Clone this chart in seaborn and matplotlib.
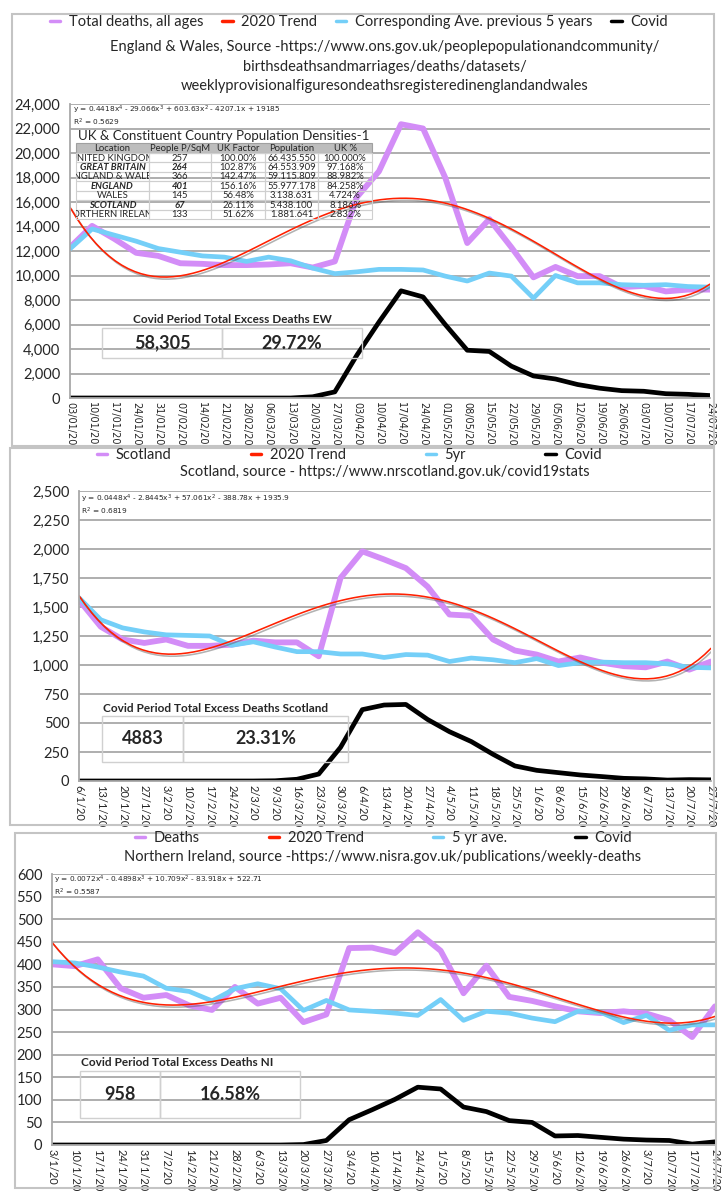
import numpy as np
import matplotlib
matplotlib.use('Agg')
import matplotlib.pyplot as plt
import matplotlib.patheffects as pe
from matplotlib.lines import Line2D
from matplotlib.patches import Rectangle
from matplotlib.ticker import FuncFormatter
import seaborn as sns

# England & Wales
ew_dates = ['03/01/20', '10/01/20', '17/01/20', '24/01/20', '31/01/20', '07/02/20', '14/02/20',
            '21/02/20', '28/02/20', '06/03/20', '13/03/20', '20/03/20', '27/03/20', '03/04/20',
            '10/04/20', '17/04/20', '24/04/20', '01/05/20', '08/05/20', '15/05/20', '22/05/20',
            '29/05/20', '05/06/20', '12/06/20', '19/06/20', '26/06/20', '03/07/20', '10/07/20',
            '17/07/20', '24/07/20']
ew_total = [12300, 14050, 13000, 11850, 11600, 11000, 10950, 10850, 10850, 10900, 11000, 10650,
            11150, 16400, 18500, 22350, 22000, 18000, 12650, 14600, 12300, 9850, 10700, 9950,
            9950, 9050, 9150, 8700, 8850, 8850]
ew_avg5 = [12175, 13800, 13300, 12800, 12200, 11900, 11600, 11500, 11150, 11500, 11200, 10600,
           10150, 10300, 10500, 10500, 10450, 9950, 9550, 10200, 9950, 8150, 10000, 9400, 9400,
           9250, 9200, 9250, 9100, 9050]
ew_covid = [0, 0, 0, 0, 0, 0, 0, 0, 0, 0, 0, 100, 500, 3500, 6200, 8750, 8250, 6000, 3900, 3800,
            2600, 1800, 1550, 1100, 800, 600, 550, 350, 300, 200]

# Scotland
sc_dates = ['6/1/20', '13/1/20', '20/1/20', '27/1/20', '3/2/20', '10/2/20', '17/2/20', '24/2/20',
            '2/3/20', '9/3/20', '16/3/20', '23/3/20', '30/3/20', '6/4/20', '13/4/20', '20/4/20',
            '27/4/20', '4/5/20', '11/5/20', '18/5/20', '25/5/20', '1/6/20', '8/6/20', '15/6/20',
            '22/6/20', '29/6/20', '6/7/20', '13/7/20', '20/7/20', '27/7/20']
sc_total = [1560, 1330, 1220, 1190, 1220, 1165, 1165, 1175, 1210, 1195, 1195, 1075, 1750, 1980,
            1910, 1835, 1675, 1435, 1425, 1220, 1125, 1090, 1030, 1065, 1020, 990, 980, 1030,
            960, 1030]
sc_avg5 = [1580, 1390, 1320, 1285, 1260, 1255, 1250, 1170, 1200, 1155, 1115, 1115, 1095, 1095,
           1065, 1090, 1085, 1030, 1060, 1045, 1020, 1055, 995, 1020, 1025, 1020, 1020, 1010,
           980, 975]
sc_covid = [0, 0, 0, 0, 0, 0, 0, 0, 0, 2, 15, 60, 290, 615, 655, 660, 530, 425, 340, 230, 130,
            92, 72, 52, 38, 23, 18, 8, 12, 10]

# Northern Ireland
ni_dates = ['3/1/20', '10/1/20', '17/1/20', '24/1/20', '31/1/20', '7/2/20', '14/2/20', '21/2/20',
            '28/2/20', '6/3/20', '13/3/20', '20/3/20', '27/3/20', '3/4/20', '10/4/20', '17/4/20',
            '24/4/20', '1/5/20', '8/5/20', '15/5/20', '22/5/20', '29/5/20', '5/6/20', '12/6/20',
            '19/6/20', '26/6/20', '3/7/20', '10/7/20', '17/7/20', '24/7/20']
ni_total = [400, 396, 411, 347, 326, 332, 309, 299, 350, 313, 326, 272, 289, 436, 437, 425, 471,
            430, 336, 397, 328, 319, 307, 296, 292, 296, 291, 276, 239, 307]
ni_avg5 = [406, 403, 394, 383, 374, 347, 340, 319, 346, 357, 346, 298, 320, 299, 296, 292, 287,
           322, 276, 296, 292, 281, 273, 296, 294, 271, 287, 254, 266, 266]
ni_covid = [0, 0, 0, 0, 0, 0, 0, 0, 0, 0, 0, 1, 10, 56, 78, 101, 128, 124, 84, 74, 54, 50, 20,
            21, 17, 13, 11, 10, 2, 7]

# population density table
tbl_header = ['Location', 'People P/SqM', 'UK Factor', 'Population', 'UK %']
tbl_rows = [
    ['UNITED KINGDOM', '257', '100.00%', '66.435.550', '100.000%'],
    ['GREAT BRITAIN', '264', '102.87%', '64.553.909', '97.168%'],
    ['ENGLAND & WALES', '366', '142.47%', '59.115.809', '88.982%'],
    ['ENGLAND', '401', '156.16%', '55.977.178', '84.258%'],
    ['WALES', '145', '56.48%', '3.138.631', '4.724%'],
    ['SCOTLAND', '67', '26.11%', '5.438.100', '8.186%'],
    ['NORTHERN IRELAND', '133', '51.62%', '1.881.641', '2.832%'],
]
tbl_bold = [False, True, False, True, False, True, False]

PURPLE = '#D38DF7'
CYAN = '#74CFF8'
RED = '#FF2000'
GRID = '#A8A8A8'
BOX = '#C4C4C4'

W, H = 724, 1200
sns.set_theme(style='white')
plt.rcParams['font.family'] = ['Lato', 'DejaVu Sans']

fig = plt.figure(figsize=(W / 100, H / 100), dpi=100)


def fx(px):
    return px / W


def fy(py):
    return 1 - py / H


def rect(x0, y0, x1, y1, **kw):
    r = Rectangle((fx(x0), fy(y1)), fx(x1) - fx(x0), fy(y0) - fy(y1),
                  transform=fig.transFigure, **kw)
    fig.patches.append(r)
    return r


def draw_panel(box, axrect, dates, total, avg5, covid, ymax, ystep, comma, xfont, xsize, ysize):
    rect(*box, fill=False, ec=BOX, lw=1.5)
    x0, y0, x1, y1 = axrect
    ax = fig.add_axes([fx(x0), fy(y1), fx(x1) - fx(x0), fy(y0) - fy(y1)])
    pos = np.arange(len(dates))
    sns.lineplot(x=pos, y=total, ax=ax, color=PURPLE, lw=4.2)
    sns.lineplot(x=pos, y=avg5, ax=ax, color=CYAN, lw=3.4)
    sns.lineplot(x=pos, y=covid, ax=ax, color='black', lw=3.4)
    # 4th order polynomial trend, like the spreadsheet trendline
    sns.regplot(x=pos, y=np.array(total, dtype=float), order=4, ci=None, scatter=False, ax=ax,
                line_kws=dict(color=RED, lw=1.15, path_effects=[
                    pe.SimpleLineShadow(offset=(1.2, -1.5), shadow_color='#555555', alpha=0.45),
                    pe.Normal()]))
    ax.set_xlim(0, len(dates) - 1)
    ax.set_ylim(0, ymax)
    ax.set_yticks(np.arange(0, ymax + 1, ystep))
    if comma:
        ax.yaxis.set_major_formatter(FuncFormatter(lambda v, p: f'{v:,.0f}'))
    ax.set_xticks(pos)
    ax.set_xticklabels(dates, rotation=-90, fontsize=xsize, family=xfont)
    ax.tick_params(axis='x', length=0, pad=3)
    ax.tick_params(axis='y', length=0, pad=7, labelsize=ysize)
    ax.grid(axis='y', color=GRID, lw=1.3)
    ax.set_axisbelow(True)
    for s in ['top', 'right']:
        ax.spines[s].set_visible(False)
    for s in ['left', 'bottom']:
        ax.spines[s].set_color(GRID)
        ax.spines[s].set_linewidth(1.3)
    ax.set_facecolor('none')
    ax.set_xlabel('')
    ax.set_ylabel('')
    return ax


def add_legend(labels, x0, x1, y):
    handles = [Line2D([], [], color=c, lw=2.5) for c in (PURPLE, RED, CYAN, 'black')]
    fig.legend(handles, labels, loc='center', ncol=4, mode='expand', frameon=False,
               bbox_to_anchor=(fx(x0), fy(y) - 0.008, fx(x1) - fx(x0), 0.016),
               fontsize=10.5, handlelength=0.7, handletextpad=0.6, borderaxespad=0, borderpad=0)


def equation(x, y, eq, r2):
    fig.text(fx(x), fy(y), eq, fontsize=5.3, va='center', family='DejaVu Sans')
    fig.text(fx(x), fy(y + 12.5), r2, fontsize=5.3, va='center', family='DejaVu Sans')


def excess_box(title, x0, xm, x1, yt, y0, y1, v1, v2, centred=False):
    if centred:
        fig.text(fx((x0 + x1) / 2), fy(yt), title, fontsize=8.5, fontweight='bold',
                 ha='center', va='center')
    else:
        fig.text(fx(x0 + 1), fy(yt), title, fontsize=8.5, fontweight='bold', va='center')
    rect(x0, y0, xm, y1, fill=False, ec='#D0D0D0', lw=1)
    rect(xm, y0, x1, y1, fill=False, ec='#D0D0D0', lw=1)
    ym = (y0 + y1) / 2
    fig.text(fx((x0 + xm) / 2), fy(ym), v1, fontsize=13, fontweight='bold', ha='center', va='center')
    fig.text(fx((xm + x1) / 2), fy(ym), v2, fontsize=13, fontweight='bold', ha='center', va='center')


# ---- England & Wales ----
draw_panel((12, 14, 714, 446), (70, 104, 710, 398), ew_dates, ew_total, ew_avg5, ew_covid,
           24000, 2000, True, 'DejaVu Sans', 7, 10.5)
add_legend(['Total deaths, all ages', '2020 Trend', 'Corresponding Ave. previous 5 years', 'Covid'],
           50, 668, 22)
for i, line in enumerate(['England & Wales, Source -https://www.ons.gov.uk/peoplepopulationandcommunity/',
                          'birthsdeathsandmarriages/deaths/datasets/',
                          'weeklyprovisionalfiguresondeathsregisteredinenglandandwales']):
    fig.text(fx(385), fy(47 + i * 19.5), line, fontsize=10.5, ha='center', va='center')
equation(73, 110, 'y = 0.4418x$^4$ - 29.066x$^3$ + 603.63x$^2$ - 4207.1x + 19185', 'R$^2$ = 0.5629')

# population table
fig.text(fx(224), fy(136), 'UK & Constituent Country Population Densities-1', fontsize=9.5,
         ha='center', va='center')
cols = [76, 149, 211, 265, 318, 372]
ytop, yhead, rowh = 143, 153, 9.43
rect(cols[0], ytop, cols[-1], yhead, fc='#BDBDBD', ec='#A0A0A0', lw=0.8)
for j, h in enumerate(tbl_header):
    fig.text(fx((cols[j] + cols[j + 1]) / 2), fy((ytop + yhead) / 2 + 0.5), h, fontsize=6.8,
             ha='center', va='center')
for i, row in enumerate(tbl_rows):
    ya = yhead + i * rowh
    for j, val in enumerate(row):
        cell = rect(cols[j], ya, cols[j + 1], ya + rowh, fill=False, ec='#CFCFCF', lw=0.8)
        bold = tbl_bold[i] and j < 2
        t = fig.text(fx((cols[j] + cols[j + 1]) / 2), fy(ya + rowh / 2 + 0.3), val, fontsize=6.8,
                     ha='center', va='center', fontweight='bold' if bold else 'normal',
                     style='italic' if bold else 'normal')
        t.set_clip_path(cell)

excess_box('Covid Period Total Excess Deaths EW', 102, 222, 362, 320, 328, 358, '58,305', '29.72%',
           centred=True)

# ---- Scotland ----
draw_panel((10, 448, 714, 825), (79, 491, 711, 781), sc_dates, sc_total, sc_avg5, sc_covid,
           2500, 250, True, None, 8, 10.5)
add_legend(['Scotland', '2020 Trend', '5yr', 'Covid'], 97, 602, 455)
fig.text(fx(385), fy(472), 'Scotland, source - https://www.nrscotland.gov.uk/covid19stats',
         fontsize=10.5, ha='center', va='center')
equation(81, 499, 'y = 0.0448x$^4$ - 2.8445x$^3$ + 57.061x$^2$ - 388.78x + 1935.9', 'R$^2$ = 0.6819')
excess_box('Covid Period Total Excess Deaths Scotland', 102, 183, 348, 708, 716, 762, '4883', '23.31%')

# ---- Northern Ireland ----
draw_panel((15, 833, 716, 1188), (52, 874, 715, 1145), ni_dates, ni_total, ni_avg5, ni_covid,
           600, 50, False, None, 8, 10.5)
add_legend(['Deaths', '2020 Trend', '5 yr ave.', 'Covid'], 135, 632, 838)
fig.text(fx(383), fy(857), 'Northern Ireland, source -https://www.nisra.gov.uk/publications/weekly-deaths',
         fontsize=10.5, ha='center', va='center')
equation(54, 880, 'y = 0.0072x$^4$ - 0.4898x$^3$ + 10.709x$^2$ - 83.918x + 522.71', 'R$^2$ = 0.5587')
excess_box('Covid Period Total Excess Deaths NI', 80, 160, 300, 1063, 1071, 1118, '958', '16.58%')

fig.savefig('out.png', dpi=100)
